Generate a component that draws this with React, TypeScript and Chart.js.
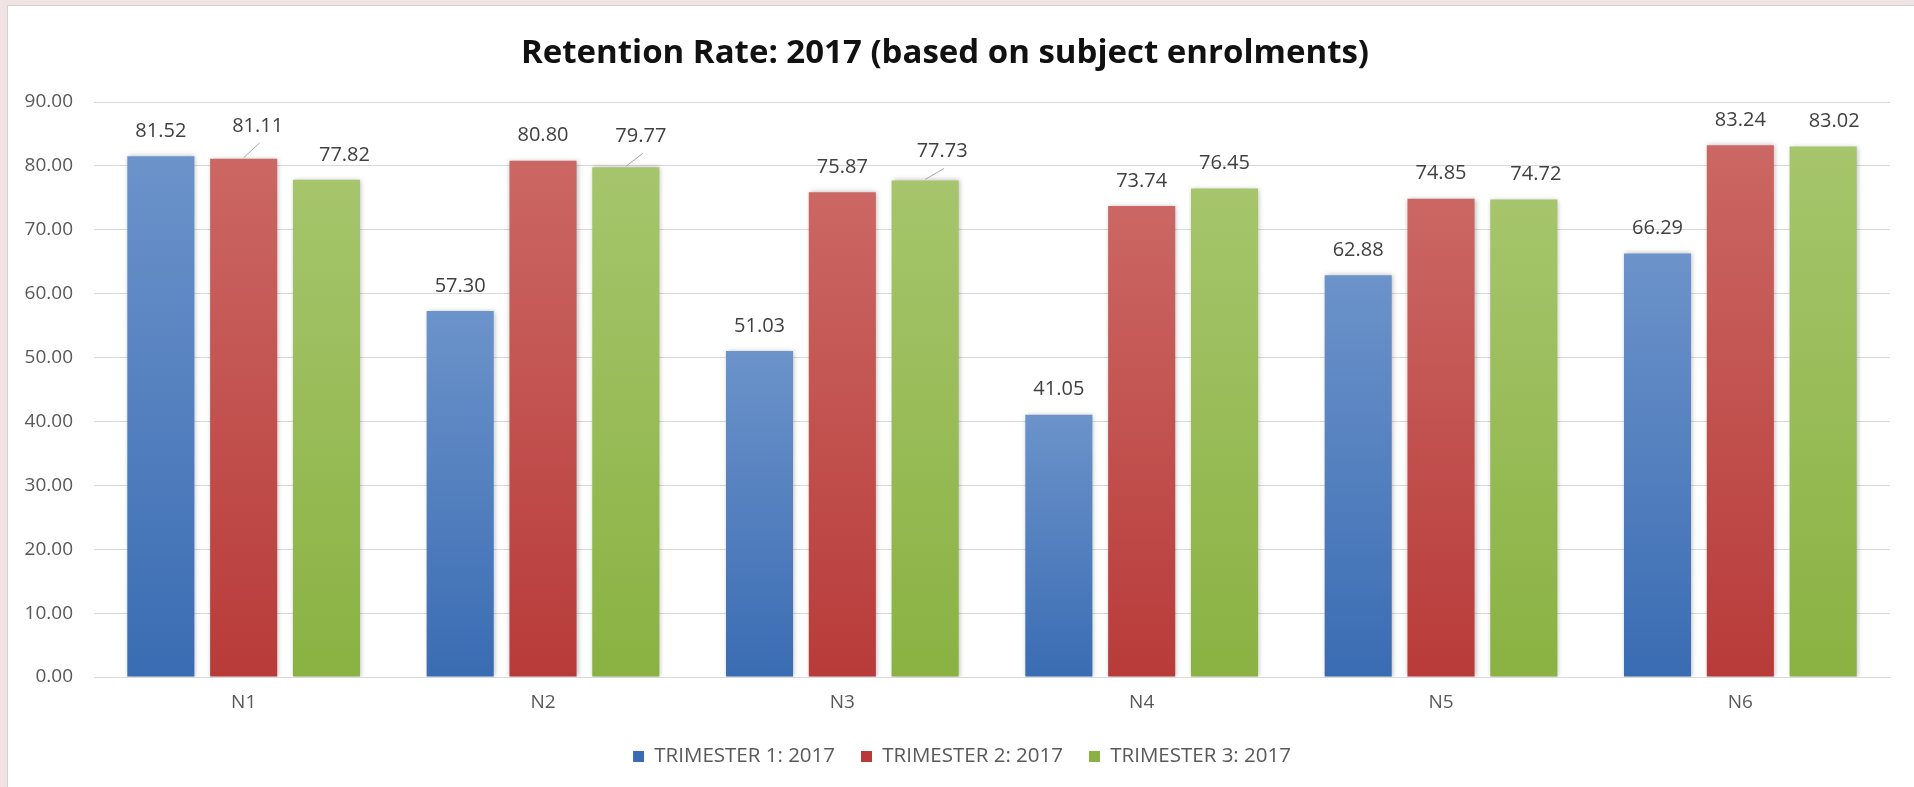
import React, { useEffect, useRef } from "react";
import { Chart, registerables } from "chart.js";

Chart.register(...registerables);

// ---- data ----
const categories = ["N1", "N2", "N3", "N4", "N5", "N6"];
const seriesNames = ["TRIMESTER 1: 2017", "TRIMESTER 2: 2017", "TRIMESTER 3: 2017"];
const trimester1 = [81.52, 57.3, 51.03, 41.05, 62.88, 66.29];
const trimester2 = [81.11, 80.8, 75.87, 73.74, 74.85, 83.24];
const trimester3 = [77.82, 79.77, 77.73, 76.45, 74.72, 83.02];
const yMin = 0;
const yMax = 90;
const yStep = 10;
const titleText = "Retention Rate: 2017 (based on subject enrolments)";

// ---- styles ----
const FONT = "'Open Sans', 'Noto Sans', sans-serif";
const seriesColors = [
  { top: "#6c93ca", bottom: "#3a6cb3", legend: "#4a7ebb" },
  { top: "#cb6764", bottom: "#b83b39", legend: "#be4b48" },
  { top: "#a6c56c", bottom: "#8ab242", legend: "#98b954" },
];
// label nudges in px (dx, dy) per series/category, mimicking Excel's placement
const labelNudge = [
  [[0, 0], [0, 0], [0, 0], [0, 0], [0, 0], [0, 0]],
  [[14, -8], [0, 0], [0, 0], [0, 0], [0, 0], [0, 0]],
  [[18, 0], [15, -6], [17, -4], [0, 0], [12, 0], [11, 0]],
];
const leaderLines = [
  [1, 0],
  [2, 1],
  [2, 2],
];
const legendShiftX = 17;

const makeFill = (s: number) => (ctx: any) => {
  const c = seriesColors[s];
  const chart = ctx.chart;
  if (!chart.chartArea || ctx.type !== "data" || !ctx.parsed) return c.legend;
  const ys = chart.scales.y;
  const yTop = ys.getPixelForValue(ctx.parsed.y);
  const yBot = ys.getPixelForValue(0);
  const g = chart.ctx.createLinearGradient(0, yTop, 0, yBot);
  g.addColorStop(0, c.top);
  g.addColorStop(1, c.bottom);
  return g;
};

const shadowPlugin = {
  id: "barShadow",
  afterLayout(chart: any) {
    if (chart.legend) {
      chart.legend.left += legendShiftX;
      chart.legend.right += legendShiftX;
    }
  },
  beforeDatasetsDraw(chart: any) {
    const ctx = chart.ctx;
    ctx.save();
    ctx.shadowColor = "rgba(0,0,0,0.28)";
    ctx.shadowBlur = 5;
    ctx.shadowOffsetX = 1;
    ctx.shadowOffsetY = 0;
  },
  afterDatasetsDraw(chart: any) {
    chart.ctx.restore();
  },
};

const labelPlugin = {
  id: "valueLabels",
  afterDraw(chart: any) {
    const ctx = chart.ctx;
    ctx.save();
    ctx.font = `20px ${FONT}`;
    ctx.fillStyle = "#404040";
    ctx.textAlign = "center";
    ctx.textBaseline = "middle";
    chart.data.datasets.forEach((ds: any, si: number) => {
      const meta = chart.getDatasetMeta(si);
      meta.data.forEach((bar: any, i: number) => {
        const v = ds.data[i];
        const [dx, dy] = labelNudge[si][i];
        const lx = bar.x + dx;
        const ly = bar.y - 25 + dy;
        ctx.fillText(v.toFixed(2), lx, ly);
        if (leaderLines.some(([a, b]) => a === si && b === i)) {
          ctx.beginPath();
          ctx.strokeStyle = "#a6a6a6";
          ctx.lineWidth = 1;
          ctx.moveTo(bar.x, bar.y - 1);
          ctx.lineTo(lx + 2, ly + 17);
          ctx.stroke();
        }
      });
    });
    ctx.restore();
  },
};

export default function App() {
  const ref = useRef<HTMLCanvasElement | null>(null);

  useEffect(() => {
    document.body.style.margin = "0";
    document.body.style.overflow = "hidden";
    if (!ref.current) return;
    const series = [trimester1, trimester2, trimester3];
    const chart = new Chart(ref.current, {
      type: "bar",
      data: {
        labels: categories,
        datasets: series.map((d, s) => ({
          label: seriesNames[s],
          data: d,
          backgroundColor: makeFill(s),
          borderWidth: 0,
          categoryPercentage: 0.83,
          barPercentage: 0.81,
        })),
      },
      options: {
        animation: false,
        responsive: false,
        devicePixelRatio: 1,
        layout: { padding: { left: 0, right: 24, top: 0, bottom: 10.25 } },
        plugins: {
          title: {
            display: true,
            text: titleText,
            color: "#111111",
            font: { family: FONT, size: 33, weight: "bold" },
            padding: { top: 33.7, bottom: 28.7 },
          },
          legend: {
            position: "bottom",
            labels: {
              font: { family: FONT, size: 20.5 },
              color: "#595959",
              boxWidth: 11,
              boxHeight: 11,
              padding: 26,
            },
          },
          tooltip: { enabled: false },
        },
        scales: {
          x: {
            grid: { display: false, drawTicks: false },
            border: { display: true, color: "#d9d9d9" },
            ticks: { font: { family: FONT, size: 19 }, color: "#595959", padding: 14.5 },
            afterFit: (scale: any) => {
              scale.height = 43.25;
            },
          },
          y: {
            min: yMin,
            max: yMax,
            ticks: {
              stepSize: yStep,
              font: { family: FONT, size: 19 },
              color: "#595959",
              padding: 21,
              callback: (v: any) => Number(v).toFixed(2),
            },
            grid: { color: "#d9d9d9", drawTicks: false },
            border: { display: false },
            afterFit: (scale: any) => {
              scale.width = 94;
            },
          },
        },
      },
      plugins: [shadowPlugin, labelPlugin],
    });
    return () => chart.destroy();
  }, []);

  return (
    <div style={{ position: "relative", width: 1914, height: 787, background: "#f1e2e4", overflow: "hidden" }}>
      <div
        style={{
          position: "absolute",
          left: 7,
          top: 5,
          width: 1907,
          height: 782,
          background: "#ffffff",
          borderLeft: "1px solid #d2d2d2",
          borderTop: "1px solid #d2d2d2",
          boxSizing: "border-box",
        }}
      />
      <canvas ref={ref} width={1914} height={787} style={{ position: "absolute", left: 0, top: 0 }} />
    </div>
  );
}
